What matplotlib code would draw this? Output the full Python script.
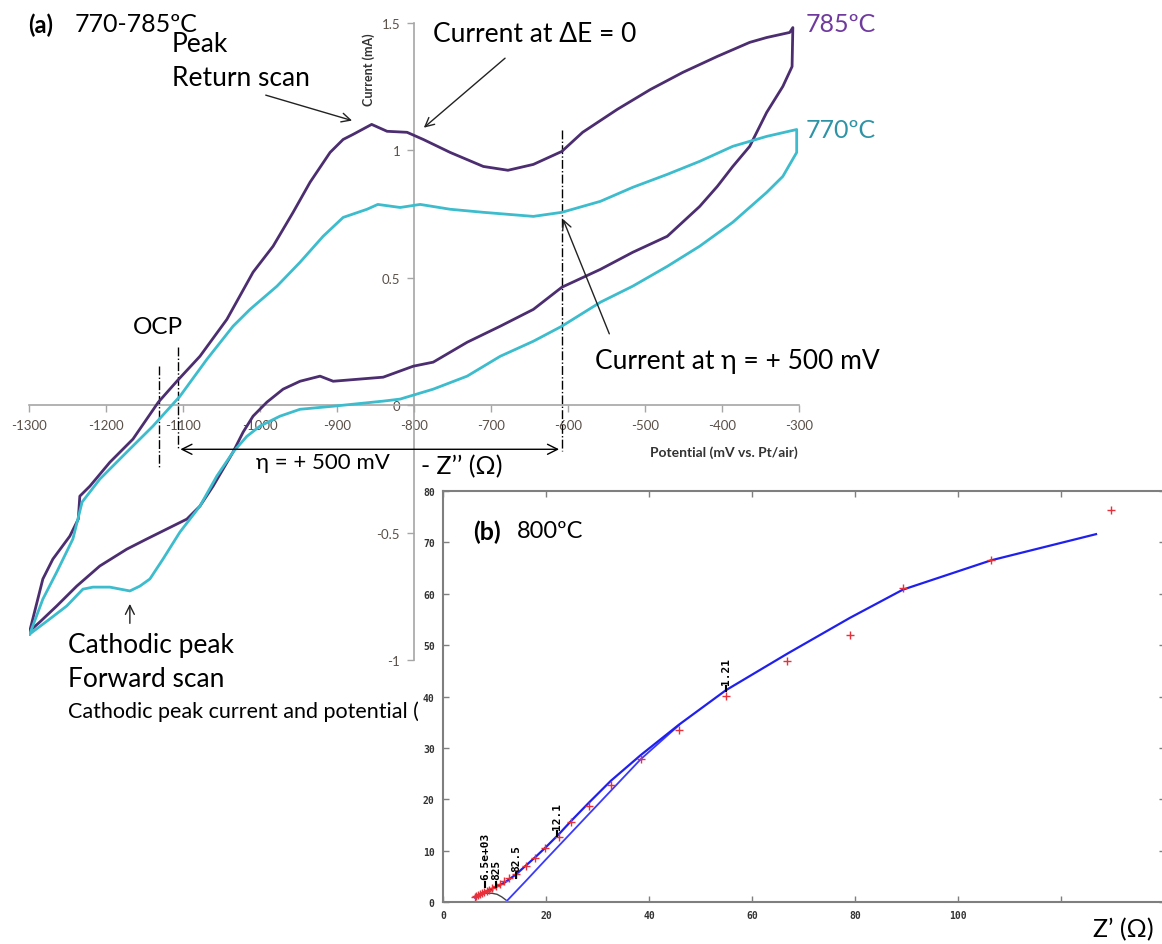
import matplotlib.pyplot as plt
import numpy as np

plt.rcParams['font.family'] = ['Lato', 'DejaVu Sans']

W, H = 1162, 945

# ── panel (a): cyclic voltammograms, potential (mV vs Pt/air) / current (mA) ──
v785_up = [-1299, -1282, -1269, -1247, -1236, -1234, -1221, -1195, -1165, -1132,
           -1108, -1078, -1043, -1009, -983, -957, -935, -909, -892, -879,
           -855, -835, -809, -788, -753, -710, -678, -645, -608, -581,
           -536, -493, -451, -406, -364, -342, -312, -308]
i785_up = [-0.886, -0.682, -0.604, -0.514, -0.447, -0.357, -0.318, -0.224, -0.133, 0.012,
           0.094, 0.192, 0.337, 0.522, 0.624, 0.757, 0.875, 0.992, 1.043, 1.063,
           1.102, 1.075, 1.071, 1.043, 0.992, 0.937, 0.922, 0.945, 0.996, 1.071,
           1.161, 1.239, 1.306, 1.369, 1.424, 1.443, 1.463, 1.482]
v785_dn = [-309, -321, -342, -364, -386, -406, -429, -471, -516, -558,
           -608, -645, -688, -731, -775, -801, -840, -905, -922, -948,
           -970, -991, -1009, -1022, -1035, -1048, -1061, -1078, -1095, -1121,
           -1147, -1173, -1208, -1238, -1264, -1286, -1299]
i785_dn = [1.329, 1.251, 1.149, 1.016, 0.937, 0.859, 0.780, 0.663, 0.600, 0.533,
           0.463, 0.376, 0.310, 0.247, 0.169, 0.153, 0.110, 0.094, 0.114, 0.094,
           0.063, 0.012, -0.043, -0.106, -0.184, -0.251, -0.318, -0.396, -0.447, -0.486,
           -0.525, -0.565, -0.631, -0.710, -0.788, -0.851, -0.886]

v770_up = [-1299, -1282, -1264, -1243, -1231, -1208, -1173, -1139, -1104, -1069,
           -1035, -1013, -978, -948, -918, -892, -861, -847, -818, -792,
           -753, -710, -645, -608, -558, -516, -471, -429, -386, -342, -303]
i770_up = [-0.898, -0.761, -0.655, -0.525, -0.380, -0.290, -0.184, -0.082, 0.035, 0.180,
           0.310, 0.376, 0.467, 0.561, 0.663, 0.737, 0.769, 0.788, 0.776, 0.788,
           0.769, 0.757, 0.741, 0.757, 0.800, 0.855, 0.906, 0.957, 1.016, 1.055, 1.082]
v770_dn = [-303, -321, -342, -386, -429, -471, -516, -558, -608, -645,
           -688, -731, -775, -818, -840, -905, -948, -974, -1000, -1017,
           -1035, -1056, -1078, -1104, -1126, -1143, -1156, -1169, -1195, -1217,
           -1230, -1251, -1273, -1299]
i770_dn = [0.992, 0.898, 0.835, 0.718, 0.624, 0.545, 0.467, 0.404, 0.310, 0.251,
           0.192, 0.114, 0.063, 0.024, 0.016, -0.004, -0.016, -0.043, -0.082, -0.122,
           -0.184, -0.278, -0.396, -0.498, -0.604, -0.682, -0.710, -0.729, -0.714, -0.714,
           -0.722, -0.788, -0.839, -0.898]

x_ticks_a = [-1300, -1200, -1100, -1000, -900, -800, -700, -600, -500, -400, -300]
y_ticks_a = [-1, -0.5, 0, 0.5, 1, 1.5]
y_labels_a = ['-1', '-0.5', '0', '0.5', '1', '1.5']

# OCP / overpotential markers (mV)
ocp_785, ocp_770, eta_500 = -1131, -1107, -608

# ── panel (b): impedance at 800 ºC ──
zre_data = [6.2, 6.5, 6.8, 7.2, 7.6, 8.0, 8.5, 9.0, 9.6, 10.3,
            11.0, 11.8, 12.8, 14.2, 16.1, 17.9, 19.8, 22.5, 24.9, 28.3,
            32.6, 38.4, 45.8, 54.9, 66.8, 79.0, 89.3, 106.4, 129.7]
zim_data = [0.9, 1.1, 1.3, 1.5, 1.7, 1.9, 2.1, 2.4, 2.7, 3.1,
            3.5, 4.0, 4.6, 5.4, 7.0, 8.6, 10.5, 12.6, 15.6, 18.7,
            22.8, 27.8, 33.5, 40.1, 46.9, 51.9, 61.1, 66.5, 76.3]
zre_fit = [6.2, 8.0, 10.0, 12.0, 14.2, 16.1, 18.0, 20.0, 22.5, 25.0,
           28.3, 32.6, 38.4, 45.8, 54.9, 66.8, 79.0, 89.3, 106.4, 126.8]
zim_fit = [0.9, 1.9, 2.8, 3.8, 5.4, 7.1, 8.8, 10.7, 13.2, 15.9,
           19.3, 23.6, 28.6, 34.5, 41.2, 48.3, 55.3, 60.8, 66.5, 71.6]
zre_fit2 = [12.2, 16.0, 20.0, 25.0, 30.0, 35.0, 38.4, 45.8]
zim_fit2 = [0.0, 4.0, 8.3, 13.6, 18.9, 24.2, 27.8, 34.4]
zre_arc = [6.3, 7.2, 8.3, 9.5, 10.5, 11.4, 12.2]
zim_arc = [1.1, 1.5, 1.7, 1.7, 1.5, 1.0, 0.4]
freq_labels = ['6.5e+03', '825', '82.5', '12.1', '1.21']
freq_zre = [8.2, 10.3, 14.2, 22.1, 55.0]
freq_zim = [2.9, 2.9, 4.6, 12.8, 41.0]

PURPLE = '#4b2d70'
TEAL = '#3cbccc'


def fx(px):
    return px / W


def fy(py):
    return 1 - py / H


fig = plt.figure(figsize=(W / 100, H / 100), dpi=100)

# ---------------- panel (a) ----------------
ax = fig.add_axes([fx(29), fy(661), (799 - 29) / W, (661 - 24) / H])
ax.set_zorder(1)
ax.patch.set_alpha(0)
ax.set_xlim(-1300, -300)
ax.set_ylim(-1, 1.5)
for s in ('top', 'right'):
    ax.spines[s].set_visible(False)
ax.spines['left'].set_position(('data', -800))
ax.spines['bottom'].set_position(('data', 0))
for s in ('left', 'bottom'):
    ax.spines[s].set_color('#a6a6a6')
    ax.spines[s].set_linewidth(1.2)
ax.set_xticks(x_ticks_a)
ax.set_xticklabels([str(v) for v in x_ticks_a])
ax.set_yticks(y_ticks_a)
ax.set_yticklabels(y_labels_a)
ax.tick_params(axis='both', direction='out', length=5, width=1, color='#a6a6a6',
               labelsize=9.5, labelcolor='#5a5048', pad=5)

ax.plot(v785_up + v785_dn, i785_up + i785_dn, color=PURPLE, lw=2, zorder=3)
ax.plot(v770_up + v770_dn, i770_up + i770_dn, color=TEAL, lw=2, zorder=3)

# dash-dot guides
ax.plot([ocp_785, ocp_785], [0.153, -0.251], color='black', ls='-.', lw=1)
ax.plot([ocp_770, ocp_770], [0.227, -0.173], color='black', ls='-.', lw=1)
ax.plot([eta_500, eta_500], [1.082, -0.18], color='black', ls='-.', lw=1)
ax.annotate('', xy=(ocp_770, -0.173), xytext=(eta_500, -0.173),
            arrowprops=dict(arrowstyle='<->', color='black', lw=1, mutation_scale=18))

arrow = dict(arrowstyle='->', color='#222222', lw=1, mutation_scale=16)
ax.annotate('', xy=(-877, 1.114), xytext=(-996, 1.22), arrowprops=arrow)
ax.annotate('', xy=(-790, 1.082), xytext=(-679, 1.369), arrowprops=arrow)
ax.annotate('', xy=(-608, 0.741), xytext=(-545, 0.27), arrowprops=arrow)
ax.annotate('', xy=(-1169, -0.769), xytext=(-1169, -0.867), arrowprops=arrow)

tf = fig.transFigure
big = 19
ax.text(fx(28), fy(25), '(a)', transform=tf, fontsize=17, fontweight='bold', va='center')
ax.text(fx(75), fy(25), '770-785ºC', transform=tf, fontsize=18, va='center')
ax.text(fx(172), fy(44), 'Peak', transform=tf, fontsize=big, va='center')
ax.text(fx(172), fy(78), 'Return scan', transform=tf, fontsize=big, va='center')
ax.text(fx(433), fy(34), 'Current at ΔE = 0', transform=tf, fontsize=big, va='center')
ax.text(fx(806), fy(25), '785ºC', transform=tf, fontsize=18, va='center', color='#6f3a9e')
ax.text(fx(806), fy(130), '770ºC', transform=tf, fontsize=18, va='center', color='#2f93a6')
ax.text(fx(133), fy(327), 'OCP', transform=tf, fontsize=17.5, va='center')
ax.text(fx(595), fy(362), 'Current at η = + 500 mV', transform=tf, fontsize=big, va='center')
ax.text(fx(256), fy(463), 'η = + 500 mV', transform=tf, fontsize=16, va='center')
ax.text(fx(68), fy(645), 'Cathodic peak', transform=tf, fontsize=big, va='center')
ax.text(fx(68), fy(680), 'Forward scan', transform=tf, fontsize=big, va='center')
ax.text(fx(68), fy(712), 'Cathodic peak current and potential (', transform=tf,
        fontsize=15.5, va='center', clip_on=False)
ax.text(fx(369), fy(70), 'Current (mA)', transform=tf, fontsize=9, fontweight='bold',
        rotation=90, ha='center', va='center', color='#333333')
ax.text(fx(724), fy(453), 'Potential (mV vs. Pt/air)', transform=tf, fontsize=10,
        fontweight='bold', ha='center', va='center', color='#333333')

# white background of the inset picture
bg = fig.add_axes([fx(418), 0, (W - 418) / W, (H - 478) / H])
bg.set_zorder(2)
bg.set_xticks([])
bg.set_yticks([])
for s in bg.spines.values():
    s.set_visible(False)

# ---------------- panel (b) ----------------
axb = fig.add_axes([fx(443), fy(903), (1165 - 443) / W, (903 - 492) / H])
axb.set_zorder(3)
axb.set_xlim(0, (1165 - 443) / 5.15)
axb.set_ylim(0, 80)
for s in axb.spines.values():
    s.set_color('#7f7f7f')
    s.set_linewidth(1.5)
axb.set_xticks([0, 20, 40, 60, 80, 100, 120])
axb.set_xticklabels(['0', '20', '40', '60', '80', '100', ''])
axb.set_yticks(range(0, 81, 10))
mono = dict(family='DejaVu Sans Mono', weight='bold', size=7)
for lab in axb.get_xticklabels() + axb.get_yticklabels():
    lab.set_fontproperties(mono)
    lab.set_color('#333333')
axb.tick_params(axis='both', direction='in', length=4, width=1, color='#7f7f7f',
                top=True, right=True, pad=6)

axb.plot(zre_arc, zim_arc, color='#444444', lw=1)
axb.plot(zre_fit2, zim_fit2, color='#3a3aff', lw=1.3)
axb.plot(zre_fit, zim_fit, color='#2020ee', lw=1.6)
axb.plot(zre_data, zim_data, ls='none', marker='+', ms=6, mew=1, color='#e8303a')
for lab, zr, zi in zip(freq_labels, freq_zre, freq_zim):
    axb.plot([zr, zr], [zi, zi + 1.0], color='black', lw=1.5)
    axb.text(zr, zi + 1.5, lab, rotation=90, ha='center', va='bottom',
             family='DejaVu Sans Mono', weight='bold', size=8)

fig.text(fx(473), fy(532), '(b)', fontsize=18, fontweight='bold', va='center', zorder=10)
fig.text(fx(517), fy(532), '800ºC', fontsize=17, va='center', zorder=10)
fig.text(fx(421), fy(467), '- Z’’ (Ω)', fontsize=18, va='center', zorder=10)
fig.text(fx(1093), fy(930), 'Z’ (Ω)', fontsize=18, va='center', zorder=10)

fig.savefig('out.png', dpi=100)
